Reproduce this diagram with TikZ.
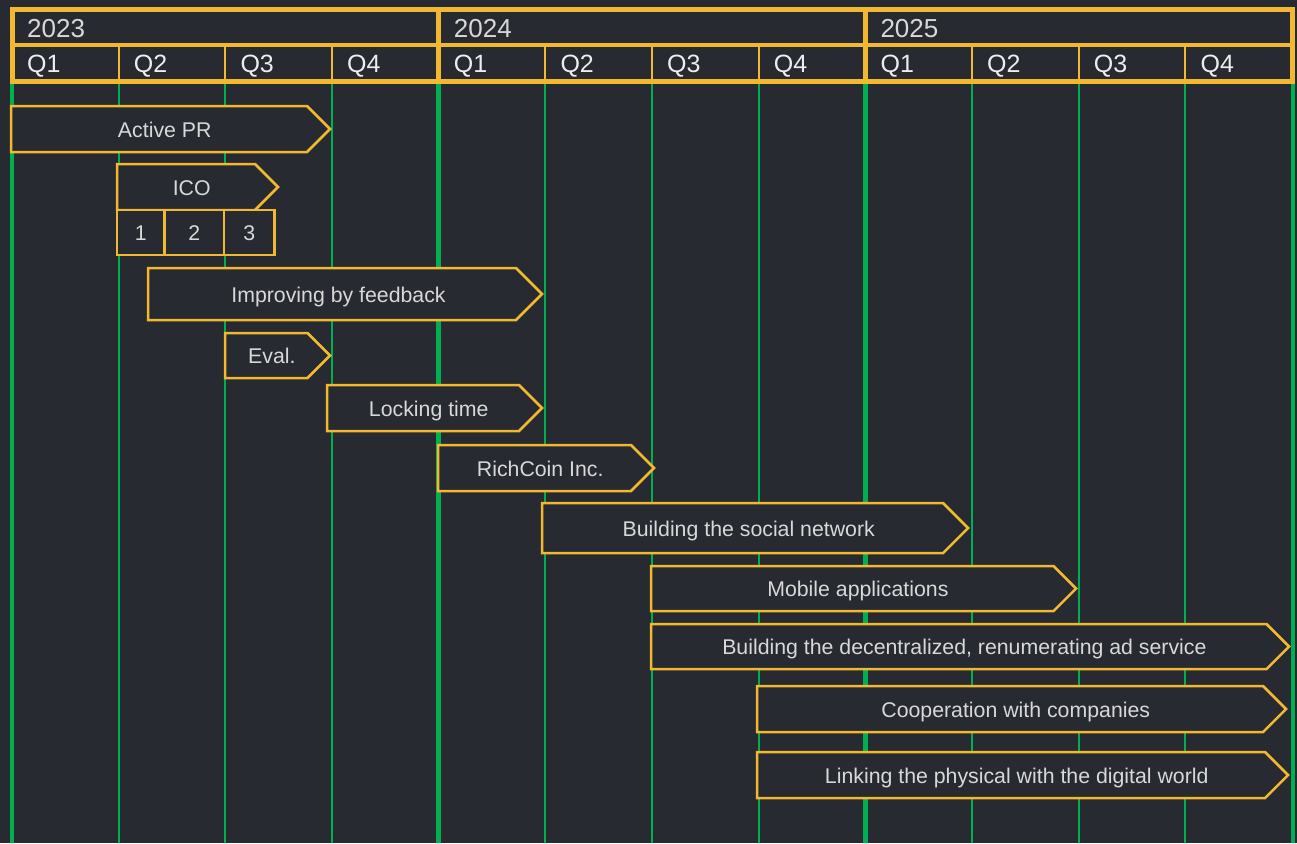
\documentclass[tikz,border=0pt]{standalone}
\usepackage{fontspec}
\setmainfont{Liberation Sans}
\definecolor{bg}{HTML}{272A30}
\definecolor{gold}{HTML}{F2B830}
\definecolor{grn}{HTML}{00B050}
\definecolor{txt}{HTML}{D8D8D8}
\definecolor{hdtxt}{HTML}{EDEDED}
\tikzset{
  thingrid/.style={draw=grn, line width=2pt},
  thickgrid/.style={draw=grn, line width=4.5pt},
  hdframe/.style={draw=gold, line width=5pt},
  hdline/.style={draw=gold, line width=3.5pt},
  qline/.style={draw=gold, line width=2pt},
  yeartxt/.style={text=txt, font=\fontsize{26}{29}\selectfont, inner sep=0pt, anchor=base west},
  qtxt/.style={text=hdtxt, font=\fontsize{25}{28}\selectfont, inner sep=0pt, anchor=base west},
  barshape/.style={draw=gold, fill=bg, line width=2.5pt, line join=miter},
  bartxt/.style={text=txt, font=\fontsize{21.3}{25}\selectfont, inner sep=0pt, text height=16.5pt, text depth=0pt, anchor=center},
}
\newcommand\taskbar[6]{%
  \pgfmathsetmacro\hh{(#5-#4)/2}%
  \filldraw[barshape] (#2,#4) -- ({#3-\hh},#4) -- (#3,{(#4+#5)/2}) -- ({#3-\hh},#5) -- (#2,#5) -- cycle;
  \node[bartxt] (#1) at ({(#2+#3)/2-\hh/4},{(#4+#5)/2}) {#6};
}
\newcommand\subbox[6]{%
  \filldraw[barshape] (#2,#4) rectangle (#3,#5);
  \node[bartxt] (#1) at ({(#2+#3)/2},{(#4+#5)/2}) {#6};
}
\begin{document}
\begin{tikzpicture}[x=1pt,y=-1pt]
\useasboundingbox (0,0) rectangle (1297,843);
\fill[bg] (0,0) rectangle (1297,843);
% grid
\foreach \i in {1,2,3,5,6,7,9,10,11}
  \draw[thingrid] ({12+\i*106.667},81) -- ({12+\i*106.667},843);
\foreach \i in {0,4,8}
  \draw[thickgrid] ({12+\i*106.667},81) -- ({12+\i*106.667},843);
\draw[thickgrid] (1293,81) -- (1293,843);
% header
\draw[hdline] (12,45) -- (1292,45);
\foreach \i in {1,2,3,5,6,7,9,10,11}
  \draw[qline] ({12+\i*106.667},45) -- ({12+\i*106.667},81);
\foreach \i in {4,8}
  \draw[hdframe] ({12+\i*106.667},9.5) -- ({12+\i*106.667},81);
\draw[hdframe] (12,9.5) rectangle (1292,81);
\node[yeartxt] (y2023) at (27,37.5) {2023};
\node[yeartxt] (y2024) at (453.7,37.5) {2024};
\node[yeartxt] (y2025) at (880.3,37.5) {2025};
\foreach \y in {0,1,2}
  \foreach \q in {1,2,3,4}
    \node[qtxt] (q\y\q) at ({27+(\y*4+\q-1)*106.667},72.5) {Q\q};
% tasks
\taskbar{activepr}{11}{330}{106}{152}{Active PR}
\taskbar{ico}{117}{278}{164}{210}{ICO}
\subbox{ico1}{117}{164.5}{210}{255}{1}
\subbox{ico2}{164.5}{224}{210}{255}{2}
\subbox{ico3}{224}{274.5}{210}{255}{3}
\taskbar{improve}{148}{542}{268}{320}{Improving by feedback}
\taskbar{eval}{225}{330}{333}{378}{Eval.}
\taskbar{locking}{327}{542}{385}{431}{Locking time}
\taskbar{richcoin}{438}{654}{445}{491}{RichCoin Inc.}
\taskbar{social}{542}{968}{503}{553}{Building the social network}
\taskbar{mobile}{651}{1076}{566}{611}{Mobile applications}
\taskbar{adservice}{651}{1289}{624}{669}{Building the decentralized, renumerating ad service}
\taskbar{coop}{757}{1286}{686}{732}{Cooperation with companies}
\taskbar{linking}{757}{1288}{752}{798}{Linking the physical with the digital world}
\end{tikzpicture}
\end{document}
